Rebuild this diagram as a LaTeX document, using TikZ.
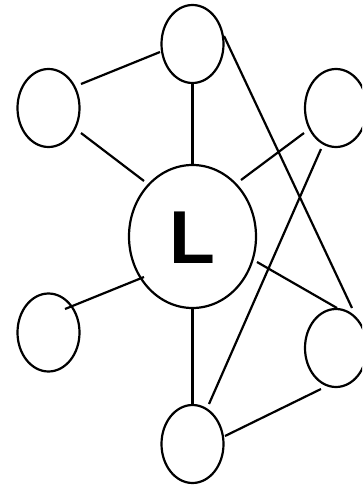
\documentclass[tikz,border=0pt]{standalone}
\usepackage{fontspec}
\setmainfont{Liberation Sans}
\usetikzlibrary{shapes.geometric,calc}
\begin{document}
\begin{tikzpicture}[x=1pt,y=-1pt,
  small/.style={draw,ellipse,line width=2.2pt,inner sep=0pt,minimum width=62pt,minimum height=78pt},
  big/.style={draw,ellipse,line width=2.2pt,inner sep=0pt,minimum width=127pt,minimum height=143pt},
  edge/.style={line width=2.2pt}]
\useasboundingbox (0,0) rectangle (362,488);
\clip (0,0) rectangle (362,488);
\node[small] (top) at (192.5,44) {};
\node[small] (ul) at (48.5,108) {};
\node[small] (ur) at (336,108) {};
\node[big] (L) at (192.5,236.5) {};
\node[inner sep=0pt] (Ltext) at (192.5,238) {\fontsize{75}{75}\selectfont\bfseries L};
\node[small] (ll) at (48.5,332.5) {};
\node[small] (rl) at (336,348) {};
\node[small] (bot) at (192.5,444) {};
\draw[edge] ($(top)+(-32.5,8)$) -- ($(ul)+(32.5,-24)$);
\draw[edge] ($(ul)+(32.5,25)$) -- ($(L)+(-48.5,-55.5)$);
\draw[edge] (top.south) -- (L.north);
\draw[edge] ($(ur)+(-32,25)$) -- ($(L)+(48.5,-56.5)$);
\draw[edge] ($(top)+(31.5,-8)$) -- ($(rl)+(16,-40)$);
\draw[edge] ($(ur)+(-15,41)$) -- ($(bot)+(16.5,-40)$);
\draw[edge] ($(ll)+(16.5,-23.5)$) -- ($(L)+(-48.5,40.5)$);
\draw[edge] ($(L)+(64.5,25.5)$) -- ($(rl)+(1,-40)$);
\draw[edge] (L.south) -- (bot.north);
\draw[edge] ($(bot)+(32.5,-8)$) -- ($(rl)+(-15,41)$);
\end{tikzpicture}
\end{document}
